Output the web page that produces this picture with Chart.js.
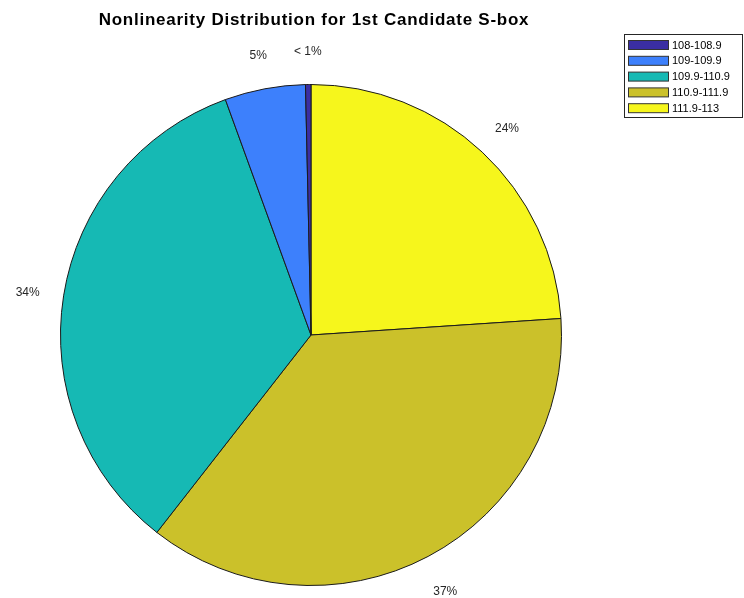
<!DOCTYPE html>
<html>
<head>
<meta charset="utf-8">
<script src="https://cdn.jsdelivr.net/npm/chart.js@4.4.1/dist/chart.umd.min.js"></script>
<style>
  html, body { margin: 0; padding: 0; background: #fff; }
  canvas { display: block; }
</style>
</head>
<body>
<canvas id="pieChart" width="744" height="598"></canvas>
<script>
// Nonlinearity ranges and their share of the candidates (%)
const ranges = ['108-108.9', '109-109.9', '109.9-110.9', '110.9-111.9', '111.9-113'];
const shares = [0.35, 5.2, 33.9, 36.6, 23.95];
const sliceColors = ['#3a2ea3', '#3d80fc', '#16b9b4', '#cbc12a', '#f6f61c'];

const titleText = 'Nonlinearity Distribution for 1st Candidate S-box';
const FONT = '"Liberation Sans", Arial, Helvetica, sans-serif';

// slices run counterclockwise from the top, so feed them to Chart.js reversed
const order = ranges.map((_, i) => ranges.length - 1 - i);

function pctLabel(v) {
    return v < 1 ? '< 1%' : Math.round(v) + '%';
}

const overlay = {
    id: 'overlay',
    afterDraw(chart) {
        const ctx = chart.ctx;
        ctx.save();

        // title
        ctx.fillStyle = '#000';
        ctx.font = 'bold 17px ' + FONT;
        ctx.letterSpacing = '0.75px';
        ctx.textAlign = 'center';
        ctx.textBaseline = 'middle';
        ctx.fillText(titleText, 314, 20);
        ctx.letterSpacing = '0px';

        // percentage labels just outside the pie
        ctx.font = '12px ' + FONT;
        ctx.fillStyle = '#262626';
        const meta = chart.getDatasetMeta(0);
        meta.data.forEach((arc, i) => {
            const p = arc.getProps(['x', 'y', 'startAngle', 'endAngle', 'outerRadius'], true);
            const mid = (p.startAngle + p.endAngle) / 2;
            const r = p.outerRadius * 1.145;
            const val = chart.data.datasets[0].data[i];
            ctx.fillText(pctLabel(val), p.x + Math.cos(mid) * r, p.y + Math.sin(mid) * r + 3);
        });

        // legend box
        const lx = 624, ly = 34, lw = 118, lh = 83;
        ctx.fillStyle = '#fff';
        ctx.fillRect(lx, ly, lw, lh);
        ctx.strokeStyle = '#262626';
        ctx.lineWidth = 1;
        ctx.strokeRect(lx + 0.5, ly + 0.5, lw, lh);

        ctx.font = '11px ' + FONT;
        ctx.textAlign = 'left';
        ranges.forEach((name, i) => {
            const cy = 45 + i * 15.8;
            ctx.fillStyle = sliceColors[i];
            ctx.fillRect(628, cy - 4.5, 40, 9);
            ctx.strokeStyle = '#333';
            ctx.strokeRect(628.5, cy - 4.5, 40, 9);
            ctx.fillStyle = '#000';
            ctx.fillText(name, 672, cy + 0.5);
        });

        ctx.restore();
    }
};

new Chart(document.getElementById('pieChart'), {
    type: 'pie',
    data: {
        labels: order.map(i => ranges[i]),
        datasets: [{
            data: order.map(i => shares[i]),
            backgroundColor: order.map(i => sliceColors[i]),
            borderColor: '#1a1a1a',
            borderWidth: 1
        }]
    },
    options: {
        responsive: false,
        animation: false,
        layout: { padding: { left: 60, top: 84, right: 182, bottom: 12 } },
        plugins: {
            legend: { display: false },
            tooltip: { enabled: false }
        }
    },
    plugins: [overlay]
});
</script>
</body>
</html>
